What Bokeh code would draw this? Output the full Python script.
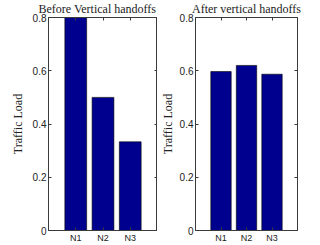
from bokeh.plotting import figure
from bokeh.layouts import row
from bokeh.models import LinearAxis, FixedTicker, Range1d
from bokeh.embed import file_html
from bokeh.resources import INLINE

categories = ["N1", "N2", "N3"]
before_load = [0.8, 0.5, 0.333]
after_load = [0.597, 0.62, 0.587]
y_ticks = [0, 0.2, 0.4, 0.6, 0.8]
y_tick_labels = ["0", "0.2", "0.4", "0.6", "0.8"]
titles = ["Before Vertical handoffs", "After vertical handoffs"]
y_label = "Traffic Load"

BAR = "#00008F"
AX = "#3a3a3a"
TXT = "#222222"
xs = list(range(1, len(categories) + 1))


def make_panel(title, values, width, mbl, mbr, lab_standoff, align, offset):
    p = figure(width=width, height=245, x_range=Range1d(0, len(categories) + 1),
               y_range=Range1d(0, 0.8), output_backend="svg", toolbar_location=None,
               min_border_left=mbl, min_border_right=mbr, min_border_top=17,
               min_border_bottom=12, x_axis_location=None, y_axis_location=None,
               title=title)
    p.title.align = align
    p.title.offset = offset
    p.title.vertical_align = "top"
    p.title.text_font = "Liberation Serif"
    p.title.text_font_size = "12px"
    p.title.text_font_style = "normal"
    p.title.text_color = TXT
    p.title.standoff = 0
    p.background_fill_color = "white"
    p.border_fill_color = "white"
    p.outline_line_color = AX
    p.xgrid.visible = False
    p.ygrid.visible = False
    p.vbar(x=xs, top=values, width=0.8, fill_color=BAR, line_color="black", line_width=0.6)

    def style(ax):
        ax.major_tick_in = 3
        ax.major_tick_out = 0
        ax.minor_tick_line_color = None
        ax.axis_line_color = AX
        ax.major_tick_line_color = AX
        ax.major_label_text_color = TXT
        ax.major_label_text_font = "Liberation Sans"

    xb = LinearAxis(ticker=FixedTicker(ticks=xs),
                    major_label_overrides={x: c for x, c in zip(xs, categories)})
    style(xb)
    xb.major_label_text_font_size = "9px"
    xb.major_label_standoff = 2
    p.add_layout(xb, "below")

    xt = LinearAxis(ticker=FixedTicker(ticks=xs),
                    major_label_overrides={x: "" for x in xs})
    style(xt)
    xt.major_label_standoff = 0
    p.add_layout(xt, "above")

    yl = LinearAxis(ticker=FixedTicker(ticks=y_ticks),
                    major_label_overrides={t: s for t, s in zip(y_ticks, y_tick_labels)},
                    axis_label=y_label)
    style(yl)
    yl.major_label_text_font_size = "10px"
    yl.major_label_standoff = 2
    yl.axis_label_text_font = "Liberation Serif"
    yl.axis_label_text_font_size = "12px"
    yl.axis_label_text_font_style = "normal"
    yl.axis_label_text_color = TXT
    yl.axis_label_standoff = lab_standoff
    p.add_layout(yl, "left")

    yr = LinearAxis(ticker=FixedTicker(ticks=y_ticks),
                    major_label_overrides={t: "" for t in y_ticks})
    style(yr)
    yr.major_label_standoff = 0
    p.add_layout(yr, "right")
    return p


p1 = make_panel(titles[0], before_load, 157, 48, 0, 5, "left", -10)
p2 = make_panel(titles[1], after_load, 163, 33, 23, 2, "center", 0)
layout = row(p1, p2)

open("out.html", "w").write(file_html(layout, INLINE))
